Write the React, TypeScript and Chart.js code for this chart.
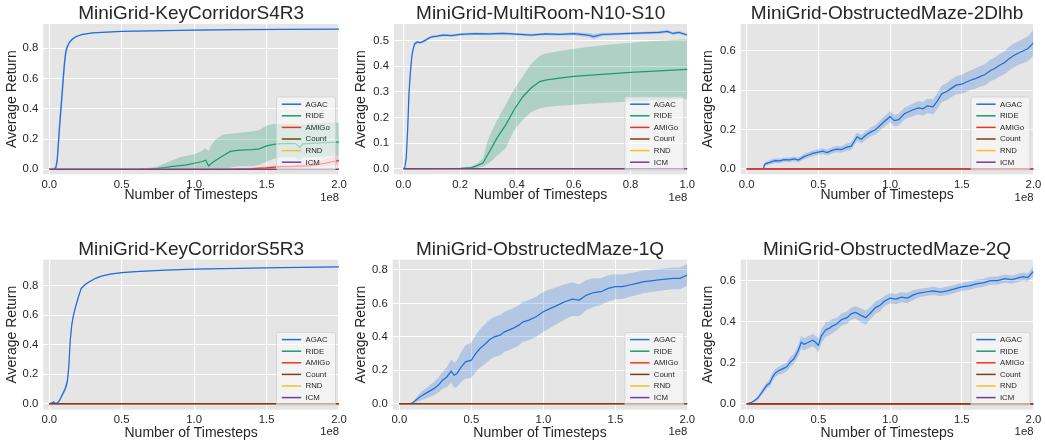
import React, { useEffect, useRef } from 'react';
import { Chart, registerables } from 'chart.js';

Chart.register(...registerables);

// ---------------- data (x in units of 1e8 timesteps) ----------------
const METHODS = ['AGAC', 'RIDE', 'AMIGo', 'Count', 'RND', 'ICM'];

const xTicks2 = [0, 0.5, 1.0, 1.5, 2.0];
const xTicks1 = [0, 0.2, 0.4, 0.6, 0.8, 1.0];
const yTicks08 = [0, 0.2, 0.4, 0.6, 0.8];
const yTicks05 = [0, 0.1, 0.2, 0.3, 0.4, 0.5];
const yTicks06 = [0, 0.2, 0.4, 0.6];

const flatX2 = [0, 2.0];
const flatX1 = [0, 1.0];
const flatY = [0, 0];

// Panel 1: MiniGrid-KeyCorridorS4R3
const kc43X = [0, 0.03, 0.045, 0.055, 0.065, 0.075, 0.085, 0.095, 0.105, 0.115, 0.125, 0.14, 0.16, 0.19, 0.23, 0.3, 0.4, 0.5, 0.7, 1.0, 1.3, 1.6, 2.0];
const kc43Agac = [0, 0, 0.01, 0.06, 0.2, 0.33, 0.45, 0.58, 0.7, 0.78, 0.81, 0.84, 0.862, 0.88, 0.892, 0.902, 0.908, 0.912, 0.916, 0.92, 0.923, 0.925, 0.927];
const kc43AgacLo = [0, 0, 0, 0.02, 0.12, 0.25, 0.38, 0.5, 0.63, 0.74, 0.79, 0.83, 0.855, 0.875, 0.888, 0.898, 0.905, 0.909, 0.913, 0.917, 0.92, 0.922, 0.924];
const kc43AgacHi = [0, 0, 0.03, 0.12, 0.28, 0.42, 0.53, 0.66, 0.76, 0.81, 0.83, 0.85, 0.868, 0.885, 0.896, 0.906, 0.911, 0.915, 0.919, 0.923, 0.926, 0.928, 0.93];
const kc43RideX = [0, 0.6, 0.7, 0.75, 0.8, 0.85, 0.9, 0.95, 1.0, 1.05, 1.08, 1.1, 1.12, 1.15, 1.2, 1.25, 1.3, 1.35, 1.4, 1.45, 1.5, 1.55, 1.6, 1.65, 1.7, 1.73, 1.75, 1.8, 1.9, 2.0];
const kc43Ride = [0, 0, 0.003, 0.006, 0.012, 0.02, 0.025, 0.03, 0.04, 0.05, 0.06, 0.022, 0.04, 0.06, 0.09, 0.118, 0.125, 0.128, 0.13, 0.135, 0.155, 0.165, 0.17, 0.172, 0.17, 0.145, 0.168, 0.172, 0.176, 0.18];
const kc43RideHi = [0, 0, 0.01, 0.02, 0.04, 0.06, 0.08, 0.09, 0.1, 0.12, 0.14, 0.12, 0.16, 0.2, 0.23, 0.235, 0.24, 0.245, 0.25, 0.26, 0.29, 0.3, 0.3, 0.3, 0.3, 0.29, 0.3, 0.305, 0.31, 0.31];
const kc43RideLo = [0, 0, 0, 0, 0, 0, 0, 0, 0, 0, 0, 0, 0, 0, 0, 0.01, 0.02, 0.02, 0.02, 0.03, 0.05, 0.07, 0.08, 0.08, 0.08, 0.06, 0.08, 0.08, 0.085, 0.09];
const kc43AmigoX = [0, 1.2, 1.4, 1.5, 1.6, 1.7, 1.8, 1.9, 1.95, 2.0];
const kc43Amigo = [0, 0, 0.005, 0.01, 0.018, 0.02, 0.025, 0.04, 0.05, 0.058];
const kc43AmigoHi = [0, 0.002, 0.01, 0.02, 0.03, 0.035, 0.045, 0.065, 0.08, 0.09];
const kc43AmigoLo = [0, 0, 0, 0, 0.005, 0.008, 0.01, 0.02, 0.025, 0.03];

// Panel 2: MiniGrid-MultiRoom-N10-S10
const mrX = [0, 0.005, 0.01, 0.015, 0.02, 0.025, 0.03, 0.035, 0.04, 0.05, 0.06, 0.07, 0.08, 0.09, 0.1, 0.12, 0.14, 0.17, 0.2, 0.25, 0.3, 0.35, 0.4, 0.45, 0.5, 0.55, 0.6, 0.65, 0.67, 0.7, 0.75, 0.8, 0.85, 0.9, 0.93, 0.95, 0.97, 1.0];
const mrAgac = [0, 0.005, 0.04, 0.15, 0.3, 0.38, 0.44, 0.47, 0.488, 0.495, 0.492, 0.497, 0.503, 0.51, 0.515, 0.518, 0.522, 0.52, 0.524, 0.527, 0.526, 0.528, 0.525, 0.522, 0.526, 0.524, 0.527, 0.522, 0.516, 0.524, 0.526, 0.528, 0.53, 0.532, 0.536, 0.528, 0.532, 0.522];
const mrAgacSpread = [0, 0.003, 0.01, 0.02, 0.02, 0.02, 0.015, 0.01, 0.008, 0.006, 0.005, 0.005, 0.005, 0.005, 0.005, 0.005, 0.005, 0.005, 0.005, 0.005, 0.005, 0.005, 0.005, 0.005, 0.005, 0.005, 0.006, 0.008, 0.01, 0.007, 0.005, 0.005, 0.005, 0.006, 0.006, 0.006, 0.006, 0.006];
const mrRideX = [0, 0.2, 0.24, 0.26, 0.28, 0.3, 0.33, 0.36, 0.39, 0.42, 0.45, 0.48, 0.5, 0.55, 0.6, 0.7, 0.8, 0.9, 1.0];
const mrRide = [0, 0.001, 0.004, 0.012, 0.022, 0.06, 0.12, 0.17, 0.23, 0.28, 0.315, 0.34, 0.346, 0.354, 0.36, 0.368, 0.376, 0.382, 0.388];
const mrRideHi = [0, 0.002, 0.008, 0.02, 0.04, 0.12, 0.19, 0.25, 0.31, 0.36, 0.41, 0.44, 0.45, 0.46, 0.468, 0.482, 0.492, 0.5, 0.505];
const mrRideLo = [0, 0, 0, 0.004, 0.008, 0.02, 0.05, 0.08, 0.15, 0.19, 0.22, 0.235, 0.24, 0.246, 0.25, 0.256, 0.262, 0.268, 0.272];

// Panel 3: MiniGrid-ObstructedMaze-2Dlhb
const om2dX = [0, 0.1, 0.115, 0.12, 0.13, 0.15, 0.18, 0.2, 0.23, 0.26, 0.3, 0.33, 0.36, 0.4, 0.43, 0.46, 0.5, 0.53, 0.56, 0.6, 0.63, 0.66, 0.7, 0.73, 0.75, 0.77, 0.8, 0.83, 0.86, 0.9, 0.93, 0.96, 1.0, 1.03, 1.06, 1.1, 1.13, 1.16, 1.2, 1.23, 1.26, 1.3, 1.33, 1.36, 1.4, 1.43, 1.46, 1.5, 1.53, 1.56, 1.6, 1.63, 1.66, 1.7, 1.73, 1.76, 1.8, 1.83, 1.86, 1.9, 1.93, 1.96, 2.0];
const om2dAgac = [0, 0, 0.002, 0.015, 0.025, 0.03, 0.038, 0.042, 0.04, 0.046, 0.045, 0.05, 0.044, 0.062, 0.07, 0.078, 0.085, 0.09, 0.082, 0.095, 0.1, 0.098, 0.11, 0.115, 0.14, 0.162, 0.15, 0.17, 0.185, 0.2, 0.22, 0.24, 0.265, 0.245, 0.25, 0.28, 0.29, 0.3, 0.31, 0.305, 0.32, 0.315, 0.345, 0.38, 0.395, 0.41, 0.425, 0.43, 0.44, 0.45, 0.46, 0.47, 0.478, 0.5, 0.51, 0.525, 0.54, 0.56, 0.575, 0.59, 0.6, 0.61, 0.64];
const om2dAgacSpread = [0, 0, 0.002, 0.008, 0.01, 0.01, 0.012, 0.012, 0.012, 0.012, 0.012, 0.012, 0.012, 0.014, 0.014, 0.015, 0.015, 0.015, 0.015, 0.016, 0.016, 0.016, 0.018, 0.02, 0.02, 0.022, 0.022, 0.022, 0.022, 0.024, 0.025, 0.026, 0.028, 0.03, 0.03, 0.03, 0.03, 0.032, 0.034, 0.035, 0.036, 0.038, 0.04, 0.042, 0.044, 0.045, 0.046, 0.048, 0.05, 0.05, 0.052, 0.052, 0.054, 0.055, 0.056, 0.057, 0.058, 0.06, 0.06, 0.06, 0.062, 0.062, 0.065];

// Panel 4: MiniGrid-KeyCorridorS5R3
const kc53X = [0, 0.02, 0.03, 0.04, 0.05, 0.07, 0.09, 0.11, 0.125, 0.135, 0.145, 0.155, 0.165, 0.18, 0.2, 0.22, 0.25, 0.28, 0.32, 0.36, 0.42, 0.5, 0.6, 0.8, 1.0, 1.3, 1.6, 2.0];
const kc53Agac = [0, 0.005, 0.012, 0.004, 0, 0.02, 0.06, 0.1, 0.15, 0.25, 0.43, 0.53, 0.59, 0.65, 0.72, 0.78, 0.81, 0.828, 0.85, 0.865, 0.878, 0.888, 0.896, 0.905, 0.912, 0.918, 0.923, 0.928];
const kc53AgacSpread = [0, 0.003, 0.005, 0.004, 0.003, 0.01, 0.015, 0.02, 0.03, 0.03, 0.03, 0.02, 0.015, 0.012, 0.01, 0.008, 0.006, 0.005, 0.004, 0.003, 0.003, 0.003, 0.003, 0.002, 0.002, 0.002, 0.002, 0.002];

// Panel 5: MiniGrid-ObstructedMaze-1Q
const om1qX = [0, 0.08, 0.1, 0.12, 0.15, 0.18, 0.21, 0.24, 0.27, 0.3, 0.33, 0.36, 0.38, 0.4, 0.43, 0.46, 0.5, 0.53, 0.56, 0.6, 0.63, 0.66, 0.7, 0.73, 0.76, 0.8, 0.83, 0.86, 0.9, 0.95, 1.0, 1.05, 1.1, 1.15, 1.2, 1.25, 1.3, 1.35, 1.4, 1.45, 1.5, 1.55, 1.6, 1.65, 1.7, 1.75, 1.8, 1.85, 1.9, 1.95, 2.0];
const om1qAgac = [0, 0, 0.01, 0.025, 0.045, 0.06, 0.075, 0.09, 0.11, 0.14, 0.16, 0.195, 0.17, 0.18, 0.22, 0.25, 0.26, 0.3, 0.33, 0.36, 0.385, 0.4, 0.41, 0.43, 0.44, 0.455, 0.47, 0.49, 0.5, 0.52, 0.55, 0.57, 0.59, 0.61, 0.625, 0.62, 0.65, 0.665, 0.67, 0.69, 0.7, 0.7, 0.71, 0.72, 0.73, 0.735, 0.74, 0.745, 0.75, 0.75, 0.77];
const om1qAgacSpread = [0, 0, 0.005, 0.015, 0.025, 0.03, 0.035, 0.04, 0.045, 0.05, 0.06, 0.07, 0.075, 0.08, 0.09, 0.1, 0.105, 0.11, 0.115, 0.12, 0.12, 0.12, 0.12, 0.12, 0.12, 0.12, 0.12, 0.12, 0.12, 0.12, 0.12, 0.115, 0.11, 0.105, 0.1, 0.095, 0.09, 0.085, 0.08, 0.078, 0.075, 0.073, 0.07, 0.07, 0.068, 0.067, 0.066, 0.065, 0.065, 0.065, 0.065];

// Panel 6: MiniGrid-ObstructedMaze-2Q
const om2qX = [0, 0.03, 0.06, 0.08, 0.1, 0.12, 0.14, 0.16, 0.18, 0.2, 0.22, 0.25, 0.28, 0.3, 0.33, 0.36, 0.38, 0.4, 0.43, 0.46, 0.48, 0.5, 0.52, 0.55, 0.58, 0.6, 0.63, 0.66, 0.7, 0.73, 0.76, 0.8, 0.83, 0.86, 0.9, 0.93, 0.96, 1.0, 1.04, 1.08, 1.12, 1.16, 1.2, 1.25, 1.3, 1.35, 1.4, 1.45, 1.5, 1.55, 1.6, 1.65, 1.7, 1.75, 1.8, 1.85, 1.9, 1.93, 1.96, 2.0];
const om2qAgac = [0, 0.005, 0.018, 0.03, 0.05, 0.07, 0.09, 0.1, 0.13, 0.15, 0.16, 0.17, 0.18, 0.2, 0.22, 0.26, 0.3, 0.29, 0.3, 0.31, 0.3, 0.285, 0.33, 0.36, 0.37, 0.38, 0.39, 0.41, 0.42, 0.44, 0.445, 0.43, 0.42, 0.44, 0.47, 0.48, 0.5, 0.515, 0.51, 0.52, 0.515, 0.53, 0.54, 0.545, 0.55, 0.545, 0.55, 0.56, 0.57, 0.575, 0.585, 0.59, 0.6, 0.6, 0.61, 0.605, 0.615, 0.62, 0.615, 0.645];
const om2qAgacSpread = [0, 0.003, 0.008, 0.01, 0.012, 0.015, 0.015, 0.018, 0.02, 0.02, 0.02, 0.022, 0.022, 0.025, 0.025, 0.028, 0.03, 0.03, 0.03, 0.03, 0.03, 0.035, 0.035, 0.035, 0.035, 0.035, 0.03, 0.03, 0.03, 0.03, 0.03, 0.035, 0.035, 0.03, 0.03, 0.03, 0.025, 0.025, 0.025, 0.025, 0.025, 0.025, 0.02, 0.02, 0.02, 0.02, 0.02, 0.02, 0.02, 0.02, 0.02, 0.02, 0.02, 0.02, 0.02, 0.02, 0.02, 0.02, 0.02, 0.025];

// ---------------- styles ----------------
const FONT = '"Liberation Sans", Arial, Helvetica, sans-serif';
const INK = '#262626';
const PLOT_BG = '#E5E5E5';
const COLORS: Record<string, string> = {
  AGAC: '#1f6fdc',
  RIDE: '#179c6c',
  AMIGo: '#ec3322',
  Count: '#7f3f14',
  RND: '#f4c030',
  ICM: '#6f3fa0',
};
const BANDS: Record<string, string> = {
  AGAC: 'rgba(31,111,220,0.25)',
  RIDE: 'rgba(23,156,108,0.26)',
  AMIGo: 'rgba(236,51,34,0.18)',
};

type Series = { method: string; x: number[]; y: number[]; lo?: number[]; hi?: number[]; spread?: number[] };
type Panel = {
  title: string; xTicks: number[]; yTicks: number[];
  xMin: number; xMax: number; yMin: number; yMax: number; series: Series[];
};

const flat2 = (m: string): Series => ({ method: m, x: flatX2, y: flatY });
const flat1 = (m: string): Series => ({ method: m, x: flatX1, y: flatY });

const PANELS: Panel[] = [
  {
    title: 'MiniGrid-KeyCorridorS4R3', xTicks: xTicks2, yTicks: yTicks08,
    xMin: -0.041, xMax: 2.0, yMin: -0.033, yMax: 0.961,
    series: [
      { method: 'AGAC', x: kc43X, y: kc43Agac, lo: kc43AgacLo, hi: kc43AgacHi },
      { method: 'RIDE', x: kc43RideX, y: kc43Ride, lo: kc43RideLo, hi: kc43RideHi },
      { method: 'AMIGo', x: kc43AmigoX, y: kc43Amigo, lo: kc43AmigoLo, hi: kc43AmigoHi },
      flat2('Count'), flat2('RND'), flat2('ICM'),
    ],
  },
  {
    title: 'MiniGrid-MultiRoom-N10-S10', xTicks: xTicks1, yTicks: yTicks05,
    xMin: -0.033, xMax: 1.0, yMin: -0.022, yMax: 0.565,
    series: [
      { method: 'AGAC', x: mrX, y: mrAgac, spread: mrAgacSpread },
      { method: 'RIDE', x: mrRideX, y: mrRide, lo: mrRideLo, hi: mrRideHi },
      flat1('AMIGo'), flat1('Count'), flat1('RND'), flat1('ICM'),
    ],
  },
  {
    title: 'MiniGrid-ObstructedMaze-2Dlhb', xTicks: xTicks2, yTicks: yTicks06,
    xMin: -0.042, xMax: 2.0, yMin: -0.028, yMax: 0.736,
    series: [
      { method: 'AGAC', x: om2dX, y: om2dAgac, spread: om2dAgacSpread },
      flat2('RIDE'), flat2('Count'), flat2('RND'), flat2('ICM'), flat2('AMIGo'),
    ],
  },
  {
    title: 'MiniGrid-KeyCorridorS5R3', xTicks: xTicks2, yTicks: yTicks08,
    xMin: -0.041, xMax: 2.0, yMin: -0.041, yMax: 0.977,
    series: [
      { method: 'AGAC', x: kc53X, y: kc53Agac, spread: kc53AgacSpread },
      flat2('RIDE'), flat2('RND'), flat2('ICM'), flat2('AMIGo'), flat2('Count'),
    ],
  },
  {
    title: 'MiniGrid-ObstructedMaze-1Q', xTicks: xTicks2, yTicks: yTicks08,
    xMin: -0.046, xMax: 2.0, yMin: -0.036, yMax: 0.862,
    series: [
      { method: 'AGAC', x: om1qX, y: om1qAgac, spread: om1qAgacSpread },
      flat2('RIDE'), flat2('RND'), flat2('ICM'), flat2('AMIGo'), flat2('Count'),
    ],
  },
  {
    title: 'MiniGrid-ObstructedMaze-2Q', xTicks: xTicks2, yTicks: yTicks06,
    xMin: -0.042, xMax: 2.0, yMin: -0.029, yMax: 0.703,
    series: [
      { method: 'AGAC', x: om2qX, y: om2qAgac, spread: om2qAgacSpread },
      flat2('RIDE'), flat2('RND'), flat2('ICM'), flat2('AMIGo'), flat2('Count'),
    ],
  },
];

// ---------------- layout (page pixels) ----------------
type Geom = {
  left: number; top: number; width: number; height: number;
  yAxisW: number; xAxisH: number; padRight: number;
  titleTop: number; titleBottom: number; yTitleTop: number; xTitleBottom: number; expoY: number;
};
const TOP = { top: 0, height: 210, xAxisH: 35.7, titleTop: 4.6, titleBottom: 0.4, xTitleBottom: 7.5, expoY: 27 };
const BOT = { top: 230, height: 212, xAxisH: 32.3, titleTop: 10.6, titleBottom: 0, xTitleBottom: 1.5, expoY: 25.5 };
const GEOMS: Geom[] = [
  { ...TOP, left: 0, width: 352, yAxisW: 43.3, padRight: 13, yTitleTop: 5.5 },
  { ...TOP, left: 348, width: 352, yAxisW: 46, padRight: 12.7, yTitleTop: 6.2 },
  { ...TOP, left: 695, width: 350, yAxisW: 45.7, padRight: 9.3, yTitleTop: 6.5 },
  { ...BOT, left: 0, width: 352, yAxisW: 43.3, padRight: 13, yTitleTop: 5.5 },
  { ...BOT, left: 348, width: 352, yAxisW: 44.7, padRight: 12.7, yTitleTop: 6.2 },
  { ...BOT, left: 695, width: 350, yAxisW: 45.7, padRight: 9.3, yTitleTop: 6.5 },
];

// ---------------- plugins ----------------
const plotBgPlugin = {
  id: 'plotBg',
  beforeDraw(chart: any) {
    const { ctx, chartArea: a } = chart;
    ctx.save();
    ctx.fillStyle = PLOT_BG;
    ctx.fillRect(a.left, a.top, a.right - a.left, a.bottom - a.top);
    ctx.restore();
  },
};

const boxLegendPlugin = {
  id: 'boxLegend',
  afterDatasetsDraw(chart: any) {
    const { ctx, chartArea: a } = chart;
    const items = chart.data.datasets
      .filter((d: any) => d.label)
      .sort((p: any, q: any) => METHODS.indexOf(p.label) - METHODS.indexOf(q.label));
    const w = 59, h = 73, r = 2;
    const x0 = a.right - 3.5 - w;
    const y0 = a.bottom - 4.3 - h;
    ctx.save();
    ctx.beginPath();
    ctx.moveTo(x0 + r, y0);
    ctx.lineTo(x0 + w - r, y0);
    ctx.quadraticCurveTo(x0 + w, y0, x0 + w, y0 + r);
    ctx.lineTo(x0 + w, y0 + h - r);
    ctx.quadraticCurveTo(x0 + w, y0 + h, x0 + w - r, y0 + h);
    ctx.lineTo(x0 + r, y0 + h);
    ctx.quadraticCurveTo(x0, y0 + h, x0, y0 + h - r);
    ctx.lineTo(x0, y0 + r);
    ctx.quadraticCurveTo(x0, y0, x0 + r, y0);
    ctx.closePath();
    ctx.fillStyle = 'rgba(255,255,255,0.55)';
    ctx.fill();
    ctx.strokeStyle = '#CFCFCF';
    ctx.lineWidth = 0.8;
    ctx.stroke();
    ctx.font = `7.8px ${FONT}`;
    ctx.textBaseline = 'middle';
    ctx.textAlign = 'left';
    items.forEach((d: any, i: number) => {
      const y = y0 + 7.2 + i * 11.6;
      ctx.beginPath();
      ctx.strokeStyle = d.borderColor;
      ctx.lineWidth = 1.5;
      ctx.moveTo(x0 + 5.3, y);
      ctx.lineTo(x0 + 24.7, y);
      ctx.stroke();
      ctx.fillStyle = INK;
      ctx.fillText(d.label, x0 + 29, y + 0.3);
    });
    ctx.restore();
  },
};

const offsetTextPlugin = {
  id: 'offsetText',
  afterDraw(chart: any, _args: any, opts: any) {
    const { ctx, chartArea: a } = chart;
    ctx.save();
    ctx.font = `11.3px ${FONT}`;
    ctx.fillStyle = INK;
    ctx.textAlign = 'right';
    ctx.textBaseline = 'alphabetic';
    ctx.fillText(opts.text || '1e8', a.right, a.bottom + (opts.dy || 27));
    ctx.restore();
  },
};

// ---------------- chart building ----------------
function buildDatasets(panel: Panel) {
  const ds: any[] = [];
  panel.series.forEach((s) => {
    const color = COLORS[s.method];
    let lo = s.lo, hi = s.hi;
    if (s.spread) {
      lo = s.y.map((v, i) => v - s.spread![i]);
      hi = s.y.map((v, i) => v + s.spread![i]);
    }
    if (lo && hi) {
      const loIdx = ds.length;
      ds.push({
        label: '', data: s.x.map((x, i) => ({ x, y: lo![i] })),
        borderColor: 'rgba(0,0,0,0)', borderWidth: 0, pointRadius: 0, fill: false,
      });
      ds.push({
        label: '', data: s.x.map((x, i) => ({ x, y: hi![i] })),
        borderColor: 'rgba(0,0,0,0)', borderWidth: 0, pointRadius: 0,
        fill: loIdx, backgroundColor: BANDS[s.method],
      });
    }
    ds.push({
      label: s.method, data: s.x.map((x, i) => ({ x, y: s.y[i] })),
      borderColor: color, backgroundColor: color, borderWidth: 1.25, pointRadius: 0, fill: false,
    });
  });
  const n = ds.length;
  ds.forEach((d, i) => { d.order = n - i; });
  return ds;
}

function makeConfig(panel: Panel, g: Geom): any {
  const tickFont = { family: FONT, size: 11.3 };
  const labelFont = { family: FONT, size: 14, weight: 'normal', lineHeight: 1 };
  return {
    type: 'line',
    data: { datasets: buildDatasets(panel) },
    plugins: [plotBgPlugin, boxLegendPlugin, offsetTextPlugin],
    options: {
      responsive: false,
      maintainAspectRatio: false,
      animation: false,
      events: [],
      layout: { padding: { top: 0, left: 0, right: g.padRight, bottom: 0 } },
      plugins: {
        legend: { display: false },
        tooltip: { enabled: false },
        title: {
          display: true, text: panel.title, fullSize: false, color: INK,
          font: { family: FONT, size: 19, weight: 'normal', lineHeight: 1 },
          padding: { top: g.titleTop, bottom: g.titleBottom },
        },
        offsetText: { text: '1e8', dy: g.expoY },
      },
      scales: {
        x: {
          type: 'linear', min: panel.xMin, max: panel.xMax,
          afterBuildTicks: (s: any) => { s.ticks = panel.xTicks.map((v) => ({ value: v })); },
          afterFit: (s: any) => { s.height = g.xAxisH; },
          ticks: {
            color: INK, font: tickFont, padding: 3.7, maxRotation: 0, autoSkip: false,
            callback: (v: any) => Number(v).toFixed(1),
          },
          grid: { color: '#FFFFFF', lineWidth: 1.1, drawTicks: false },
          border: { display: false },
          title: {
            display: true, text: 'Number of Timesteps', color: INK, font: labelFont,
            padding: { top: 0, bottom: g.xTitleBottom },
          },
        },
        y: {
          type: 'linear', min: panel.yMin, max: panel.yMax,
          afterBuildTicks: (s: any) => { s.ticks = panel.yTicks.map((v) => ({ value: v })); },
          afterFit: (s: any) => { s.width = g.yAxisW; },
          ticks: {
            color: INK, font: tickFont, padding: 5, autoSkip: false,
            callback: (v: any) => Number(v).toFixed(1),
          },
          grid: { color: '#FFFFFF', lineWidth: 1.1, drawTicks: false },
          border: { display: false },
          title: {
            display: true, text: 'Average Return', color: INK, font: labelFont,
            padding: { top: g.yTitleTop, bottom: 0 },
          },
        },
      },
    },
  };
}

function PanelChart({ panel, geom }: { panel: Panel; geom: Geom }) {
  const ref = useRef<HTMLCanvasElement | null>(null);
  useEffect(() => {
    if (!ref.current) return;
    const chart = new Chart(ref.current, makeConfig(panel, geom));
    return () => chart.destroy();
  }, [panel, geom]);
  return (
    <canvas
      ref={ref}
      width={geom.width}
      height={geom.height}
      style={{ position: 'absolute', left: geom.left, top: geom.top, width: geom.width, height: geom.height }}
    />
  );
}

export default function App() {
  return (
    <div style={{ position: 'absolute', left: 0, top: 0, width: 1045, height: 442, background: '#FFFFFF', overflow: 'hidden' }}>
      {PANELS.map((p, i) => (
        <PanelChart key={p.title} panel={p} geom={GEOMS[i]} />
      ))}
    </div>
  );
}
